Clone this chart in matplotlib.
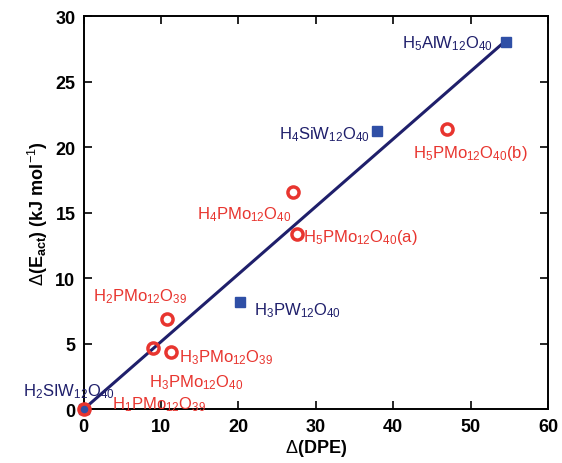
import numpy as np
import matplotlib.pyplot as plt

plt.rcParams['font.family'] = ['Liberation Sans', 'DejaVu Sans']
plt.rcParams['mathtext.fontset'] = 'custom'
plt.rcParams['mathtext.rm'] = 'Liberation Sans'
plt.rcParams['mathtext.bf'] = 'Liberation Sans:bold'
plt.rcParams['mathtext.default'] = 'rm'

# data
# -------------------------------------------------------------------------------------
sq_x = [0.0, 20.2, 37.9, 54.6]          # tungstates (blue squares)
sq_y = [0.0, 8.2, 21.2, 28.0]
circ_x = [0.0, 8.9, 10.7, 11.3, 27.0, 27.6, 47.0]   # molybdates (red circles)
circ_y = [0.0, 4.7, 6.9, 4.4, 16.6, 13.4, 21.4]
fit_x = [0.0, 54.3]
fit_y = [0.0, 28.0]

blue_labels = [r'H$_2$SIW$_{12}$O$_{40}$', r'H$_3$PW$_{12}$O$_{40}$',
               r'H$_4$SiW$_{12}$O$_{40}$', r'H$_5$AlW$_{12}$O$_{40}$']
blue_pos = [(-7.9, 1.45, 'left'), (22.0, 7.6, 'left'),
            (37.0, 21.0, 'right'), (52.9, 28.0, 'right')]
red_labels = [r'H$_1$PMo$_{12}$O$_{39}$', r'H$_3$PMo$_{12}$O$_{40}$',
              r'H$_3$PMo$_{12}$O$_{39}$', r'H$_2$PMo$_{12}$O$_{39}$',
              r'H$_4$PMo$_{12}$O$_{40}$', r'H$_5$PMo$_{12}$O$_{40}$(a)',
              r'H$_5$PMo$_{12}$O$_{40}$(b)']
red_pos = [(3.6, 0.4, 'left'), (8.4, 2.1, 'left'), (12.3, 4.0, 'left'),
           (1.2, 8.7, 'left'), (26.9, 14.9, 'right'), (28.3, 13.2, 'left'),
           (42.6, 19.6, 'left')]

navy = '#1f1f6b'
blue = '#2f4fa6'
red = '#e8352f'

# plot
# -------------------------------------------------------------------------------------
fig = plt.figure(figsize=(5.62, 4.64), dpi=100)
ax = fig.add_axes([0.149, 0.116, 0.826, 0.847])

ax.plot(fit_x, fit_y, color=navy, lw=2.2, zorder=2)
ax.plot(sq_x, sq_y, 's', color=blue, ms=7.5, zorder=3, clip_on=False)
ax.plot(circ_x, circ_y, 'o', mfc='none', mec=red, ms=8, mew=2.5, zorder=4, clip_on=False)

for lab, (x, y, ha) in zip(blue_labels, blue_pos):
    ax.text(x, y, lab, color=navy, fontsize=12, ha=ha, va='center', clip_on=False)
for lab, (x, y, ha) in zip(red_labels, red_pos):
    ax.text(x, y, lab, color=red, fontsize=12, ha=ha, va='center', clip_on=False)

ax.set_xlim(0, 60)
ax.set_ylim(0, 30)
ax.set_xticks(np.arange(0, 61, 10))
ax.set_yticks(np.arange(0, 31, 5))
ax.tick_params(direction='in', top=True, right=True, length=6, width=1.2,
               labelsize=13, pad=6)
for lab in ax.get_xticklabels() + ax.get_yticklabels():
    lab.set_fontweight('bold')
for s in ax.spines.values():
    s.set_linewidth(1.4)

ax.set_xlabel(r'$\Delta$(DPE)', fontsize=13, fontweight='bold', labelpad=2)
ax.set_ylabel(r'$\Delta$(E$_{\mathbf{act}}$) (kJ mol$^{-1}$)', fontsize=13,
              fontweight='bold', labelpad=4)

fig.savefig('out.png', dpi=100)
